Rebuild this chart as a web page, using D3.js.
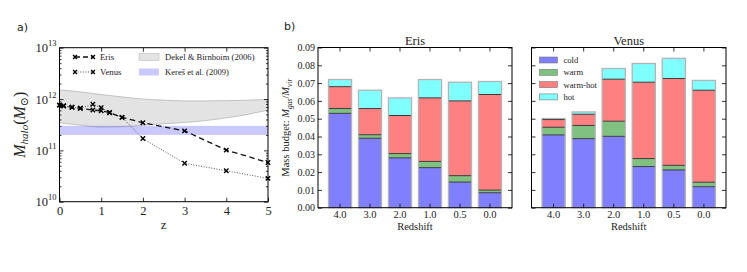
<!DOCTYPE html>
<html>
<head>
<meta charset="utf-8">
<script src="https://cdn.jsdelivr.net/npm/d3@7"></script>
<style>
  body { margin: 0; background: #fff; }
</style>
</head>
<body>
<svg id="chart" width="747" height="272"></svg>
<script>
// Panel a) halo mass growth
var redshift = [0, 0.1, 0.3, 0.5, 0.8, 1.0, 1.2, 1.5, 2, 3, 4, 5];
var erisMass = [7.6e11, 7.4e11, 6.9e11, 6.6e11, 6.1e11, 5.9e11, 5.4e11, 4.4e11, 3.45e11, 2.4e11, 1.01e11, 5.8e10];
var venusMass = [7.6e11, 7.3e11, 6.9e11, 6.6e11, 7.9e11, 6.8e11, 5.5e11, 4.4e11, 1.7e11, 5.6e10, 4.0e10, 2.85e10];

// Dekel & Birnboim (2006) band and Keres et al. (2009) band
var bandZ = [0, 0.5, 1, 1.5, 2, 2.5, 3, 3.5, 4, 4.5, 5];
var dekelUpper = [1.5e12, 1.38e12, 1.22e12, 1.1e12, 1.0e12, 0.95e12, 0.92e12, 0.92e12, 0.93e12, 0.95e12, 0.98e12];
var dekelLower = [3.45e11, 3.1e11, 2.85e11, 2.9e11, 3.1e11, 3.3e11, 3.5e11, 3.8e11, 4.3e11, 5.0e11, 6.1e11];
var keresRange = [2.0e11, 3.0e11];

// Panel b) gas mass budget per phase
var redshiftLabels = ['4.0', '3.0', '2.0', '1.0', '0.5', '0.0'];
var phases = ['cold', 'warm', 'warm-hot', 'hot'];
var erisCold = [0.053, 0.039, 0.028, 0.0225, 0.0144, 0.0084];
var erisWarm = [0.0027, 0.002, 0.0024, 0.0035, 0.0036, 0.0015];
var erisWarmHot = [0.0123, 0.0147, 0.0214, 0.0357, 0.042, 0.0537];
var erisHot = [0.004, 0.0103, 0.0099, 0.0103, 0.0105, 0.0073];
var venusCold = [0.0409, 0.0388, 0.0401, 0.0231, 0.0212, 0.0118];
var venusWarm = [0.0043, 0.0074, 0.0085, 0.0045, 0.0026, 0.0025];
var venusWarmHot = [0.0043, 0.0063, 0.0236, 0.0429, 0.0488, 0.0517];
var venusHot = [0.0006, 0.0013, 0.006, 0.0105, 0.0113, 0.0055];

var phaseColors = ['#8080ff', '#80c080', '#ff8080', '#80ffff'];

var SERIF = 'Liberation Serif, DejaVu Serif, serif';
var SANS = 'DejaVu Sans, Liberation Sans, sans-serif';

var svg = d3.select('#chart');

// Frame around an axes box
function frame(g, box) {
  g.append('rect')
    .attr('x', box.x0).attr('y', box.y0)
    .attr('width', box.x1 - box.x0).attr('height', box.y1 - box.y0)
    .attr('fill', 'none').attr('stroke', '#000').attr('stroke-width', 1);
}

function cleanAxis(g) {
  g.attr('font-family', SERIF);
  g.select('.domain').remove();
  g.selectAll('.tick line').attr('stroke', '#000').attr('stroke-width', 0.8);
}

// ---------- Panel a ----------
var boxA = { x0: 59.5, x1: 268, y0: 47.7, y1: 201.7 };
var x = d3.scaleLinear().domain([0, 5]).range([boxA.x0, boxA.x1]);
var y = d3.scaleLog().domain([1e10, 1e13]).range([boxA.y1, boxA.y0]);

var gA = svg.append('g');

// Bands
var bandRows = bandZ.map(function (z, i) { return { z: z, lo: dekelLower[i], hi: dekelUpper[i] }; });
gA.append('path')
  .datum(bandRows)
  .attr('d', d3.area().curve(d3.curveMonotoneX).x(function (d) { return x(d.z); })
    .y0(function (d) { return y(d.lo); }).y1(function (d) { return y(d.hi); }))
  .attr('fill', '#e3e3e3').attr('stroke', '#b5b5b5').attr('stroke-width', 0.8);

gA.append('rect')
  .attr('x', x(0)).attr('width', x(5) - x(0))
  .attr('y', y(keresRange[1])).attr('height', y(keresRange[0]) - y(keresRange[1]))
  .attr('fill', 'rgba(60,60,255,0.28)');

// Lines
var line = d3.line().x(function (d) { return x(d[0]); }).y(function (d) { return y(d[1]); });
var erisPts = redshift.map(function (z, i) { return [z, erisMass[i]]; });
var venusPts = redshift.map(function (z, i) { return [z, venusMass[i]]; });

gA.append('path').datum(venusPts).attr('d', line)
  .attr('fill', 'none').attr('stroke', '#444').attr('stroke-width', 0.9).attr('stroke-dasharray', '1,1.6');
gA.append('path').datum(erisPts).attr('d', line)
  .attr('fill', 'none').attr('stroke', '#111').attr('stroke-width', 1.3).attr('stroke-dasharray', '5.5,3.5');

function crossMarker(g, px, py, s) {
  g.append('path')
    .attr('d', 'M' + (px - s) + ',' + (py - s) + 'L' + (px + s) + ',' + (py + s) +
      'M' + (px - s) + ',' + (py + s) + 'L' + (px + s) + ',' + (py - s))
    .attr('stroke', '#000').attr('stroke-width', 1.4).attr('fill', 'none');
}
venusPts.forEach(function (d) { crossMarker(gA, x(d[0]), y(d[1]), 2.2); });
erisPts.forEach(function (d) { crossMarker(gA, x(d[0]), y(d[1]), 2.2); });

// Axes
var xAxisA = gA.append('g')
  .attr('transform', 'translate(0,' + boxA.y1 + ')')
  .call(d3.axisBottom(x).tickValues([0, 1, 2, 3, 4, 5]).tickFormat(d3.format('d')).tickSize(-4).tickPadding(4));
cleanAxis(xAxisA);
xAxisA.selectAll('.tick text').attr('font-size', 12.5);

var xTopA = gA.append('g').attr('transform', 'translate(0,' + boxA.y0 + ')')
  .call(d3.axisTop(x).tickValues([1, 2, 3, 4]).tickFormat('').tickSize(-4));
cleanAxis(xTopA);

var majorY = [1e10, 1e11, 1e12, 1e13];
var minorY = [];
[1e10, 1e11, 1e12].forEach(function (dec) {
  for (var k = 2; k <= 9; k++) minorY.push(dec * k);
});

var yAxisA = gA.append('g').attr('transform', 'translate(' + boxA.x0 + ',0)')
  .call(d3.axisLeft(y).tickValues(majorY).tickFormat('').tickSize(-4).tickPadding(3));
cleanAxis(yAxisA);
yAxisA.selectAll('.tick').each(function (d) {
  var t = d3.select(this).append('text')
    .attr('x', -3).attr('y', 4).attr('text-anchor', 'end').attr('font-size', 12.5);
  t.append('tspan').text('10');
  t.append('tspan').attr('dy', -6).attr('font-size', 8.5).text(String(Math.round(Math.log10(d))));
});
var yMinorA = gA.append('g').attr('transform', 'translate(' + boxA.x0 + ',0)')
  .call(d3.axisLeft(y).tickValues(minorY).tickFormat('').tickSize(-2));
cleanAxis(yMinorA);
var yRightA = gA.append('g').attr('transform', 'translate(' + boxA.x1 + ',0)')
  .call(d3.axisRight(y).tickValues(majorY).tickFormat('').tickSize(-4));
cleanAxis(yRightA);
var yRightMinorA = gA.append('g').attr('transform', 'translate(' + boxA.x1 + ',0)')
  .call(d3.axisRight(y).tickValues(minorY).tickFormat('').tickSize(-2));
cleanAxis(yRightMinorA);

frame(gA, boxA);

// Labels
gA.append('text').attr('x', (boxA.x0 + boxA.x1) / 2).attr('y', 228.5)
  .attr('text-anchor', 'middle').attr('font-size', 13).text('z');

var yLabA = gA.append('text')
  .attr('transform', 'translate(25,' + ((boxA.y0 + boxA.y1) / 2) + ') rotate(-90)')
  .attr('text-anchor', 'middle').attr('font-size', 16);
yLabA.append('tspan').attr('font-style', 'italic').text('M');
yLabA.append('tspan').attr('font-style', 'italic').attr('font-size', 11).attr('dy', 3).text('halo');
yLabA.append('tspan').attr('dy', -3).text('(');
yLabA.append('tspan').attr('font-style', 'italic').text('M');
yLabA.append('tspan').attr('font-size', 11).attr('dy', 3).text('\u2299');
yLabA.append('tspan').attr('dy', -3).text(')');

// Legend a
var legA = gA.append('g');
var legLines = [
  { label: 'Eris', y: 57, dash: '5,3', color: '#111', width: 1.3 },
  { label: 'Venus', y: 72, dash: '1,1.6', color: '#444', width: 0.9 }
];
legLines.forEach(function (d) {
  legA.append('line').attr('x1', 75).attr('x2', 93).attr('y1', d.y).attr('y2', d.y)
    .attr('stroke', d.color).attr('stroke-width', d.width).attr('stroke-dasharray', d.dash);
  crossMarker(legA, 75, d.y, 1.9);
  crossMarker(legA, 93, d.y, 1.9);
  legA.append('text').attr('x', 100).attr('y', d.y + 3).attr('font-size', 8.8).text(d.label);
});
var legBands = [
  { label: 'Dekel & Birnboim (2006)', y: 57, fill: '#e3e3e3', stroke: '#bdbdbd' },
  { label: 'Kere\u0161 et al. (2009)', y: 72, fill: 'rgba(60,60,255,0.28)', stroke: 'none' }
];
legBands.forEach(function (d) {
  legA.append('rect').attr('x', 139).attr('y', d.y - 3.5).attr('width', 20).attr('height', 7)
    .attr('fill', d.fill).attr('stroke', d.stroke).attr('stroke-width', 0.6);
  legA.append('text').attr('x', 165).attr('y', d.y + 3).attr('font-size', 8.6).text(d.label);
});

// ---------- Panel b ----------
function barPanel(box, series, title, showY, showLegend) {
  var g = svg.append('g');
  var xb = d3.scaleBand().domain(redshiftLabels).range([box.x0, box.x1])
    .paddingInner(0.23).paddingOuter(0.35);
  var yb = d3.scaleLinear().domain([0, 0.09]).range([box.y1, box.y0]);

  var rows = redshiftLabels.map(function (r, i) {
    var o = { redshift: r };
    phases.forEach(function (p, j) { o[p] = series[j][i]; });
    return o;
  });
  var stack = d3.stack().keys(phases)(rows);

  var layers = g.selectAll('.layer').data(stack).enter().append('g')
    .attr('fill', function (d, i) { return phaseColors[i]; });
  layers.selectAll('rect').data(function (d) { return d; }).enter().append('rect')
    .attr('x', function (d) { return xb(d.data.redshift); })
    .attr('width', xb.bandwidth())
    .attr('y', function (d) { return yb(d[1]); })
    .attr('height', function (d) { return yb(d[0]) - yb(d[1]); });

  // outline of each stacked bar
  var tops = stack[stack.length - 1];
  g.selectAll('.outline').data(tops).enter().append('rect')
    .attr('x', function (d) { return xb(d.data.redshift); })
    .attr('width', xb.bandwidth())
    .attr('y', function (d) { return yb(d[1]); })
    .attr('height', function (d) { return yb(0) - yb(d[1]); })
    .attr('fill', 'none').attr('stroke', '#b4b4b4').attr('stroke-width', 1.3);

  // boundaries between phases
  stack.slice(0, stack.length - 1).forEach(function (layer) {
    g.selectAll(null).data(layer).enter().append('line')
      .attr('x1', function (d) { return xb(d.data.redshift) + 0.5; })
      .attr('x2', function (d) { return xb(d.data.redshift) + xb.bandwidth() - 0.5; })
      .attr('y1', function (d) { return yb(d[1]); })
      .attr('y2', function (d) { return yb(d[1]); })
      .attr('stroke', '#3c3c3c').attr('stroke-width', 1);
  });

  var ticksY = d3.range(0, 0.0901, 0.01);
  var yl = g.append('g').attr('transform', 'translate(' + box.x0 + ',0)')
    .call(d3.axisLeft(yb).tickValues(ticksY).tickFormat(showY ? d3.format('.2f') : '').tickSize(-4).tickPadding(3));
  cleanAxis(yl);
  yl.selectAll('.tick text').attr('font-size', 10);
  var yr = g.append('g').attr('transform', 'translate(' + box.x1 + ',0)')
    .call(d3.axisRight(yb).tickValues(ticksY).tickFormat('').tickSize(-4));
  cleanAxis(yr);
  var xbAxis = g.append('g').attr('transform', 'translate(0,' + box.y1 + ')')
    .call(d3.axisBottom(xb).tickSize(-4).tickPadding(3));
  cleanAxis(xbAxis);
  xbAxis.selectAll('.tick text').attr('font-size', 10.5);
  var xt = g.append('g').attr('transform', 'translate(0,' + box.y0 + ')')
    .call(d3.axisTop(xb).tickSize(-4).tickFormat(''));
  cleanAxis(xt);

  frame(g, box);

  g.append('text').attr('x', (box.x0 + box.x1) / 2).attr('y', 44.5)
    .attr('text-anchor', 'middle').attr('font-size', 12.5).text(title);
  g.append('text').attr('x', (box.x0 + box.x1) / 2).attr('y', 229.5)
    .attr('text-anchor', 'middle').attr('font-size', 10.5).text('Redshift');

  if (showY) {
    var yLab = g.append('text')
      .attr('transform', 'translate(289,' + ((box.y0 + box.y1) / 2) + ') rotate(-90)')
      .attr('text-anchor', 'middle').attr('font-size', 10.5);
    yLab.append('tspan').text('Mass budget: ');
    yLab.append('tspan').attr('font-style', 'italic').text('M');
    yLab.append('tspan').attr('font-style', 'italic').attr('font-size', 7.5).attr('dy', 2.5).text('gas');
    yLab.append('tspan').attr('dy', -2.5).text('/');
    yLab.append('tspan').attr('font-style', 'italic').text('M');
    yLab.append('tspan').attr('font-style', 'italic').attr('font-size', 7.5).attr('dy', 2.5).text('vir');
  }

  if (showLegend) {
    var leg = g.append('g');
    phases.forEach(function (p, i) {
      var ly = 60 + i * 12.3;
      leg.append('rect').attr('x', box.x0 + 8).attr('y', ly - 3).attr('width', 18).attr('height', 6)
        .attr('fill', phaseColors[i]).attr('stroke', '#777').attr('stroke-width', 0.6);
      leg.append('text').attr('x', box.x0 + 32).attr('y', ly + 3).attr('font-size', 8.6).text(p);
    });
  }
}

barPanel({ x0: 318, x1: 512, y0: 47.5, y1: 207.7 },
  [erisCold, erisWarm, erisWarmHot, erisHot], 'Eris', true, false);
barPanel({ x0: 531.5, x1: 726, y0: 47.5, y1: 207.7 },
  [venusCold, venusWarm, venusWarmHot, venusHot], 'Venus', false, true);

// Serif for every text, then panel letters in sans
svg.selectAll('text').attr('font-family', SERIF).attr('fill', '#222');
svg.append('text').attr('x', 17).attr('y', 31).attr('font-size', 11)
  .attr('font-family', SANS).attr('fill', '#222').text('a)');
svg.append('text').attr('x', 284).attr('y', 30).attr('font-size', 11)
  .attr('font-family', SANS).attr('fill', '#222').text('b)');
</script>
</body>
</html>
